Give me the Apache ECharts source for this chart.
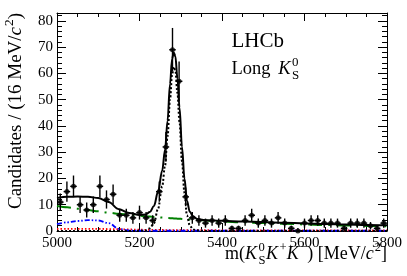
<!DOCTYPE html>
<html><head><meta charset="utf-8">
<script src="https://cdn.jsdelivr.net/npm/echarts@6/dist/echarts.min.js"></script>
<style>html,body{margin:0;padding:0;background:#fff}#c{width:407px;height:276px}</style>
</head><body><div id="c"></div>
<script>
// ---- data ----
const binWidth = 16;
const binCenters = [5008,5024,5040,5056,5072,5088,5104,5120,5136,5152,
  5168,5184,5200,5216,5232,5248,5264,5280,5296,5312,
  5328,5344,5360,5376,5392,5408,5424,5440,5456,5472,
  5488,5504,5520,5536,5552,5568,5584,5600,5616,5632,
  5648,5664,5680,5696,5712,5728,5744,5760,5776,5792];
const counts = [11,15,17,10,8,10,17,12,14,6,
  6,5,7,5,4,15,32,69,57,13,
  5,4,3,4,3,4,1,1,4,6,
  3,4,3,5,3,1,0,3,4,4,
  3,3,3,1,3,3,3,2,1,3];
const curveMass = [5000,5025,5050,5075,5100,5125,5150,5175,5200,5215,
  5225,5235,5245,5255,5262,5268,5274,5279,5283,5287,
  5292,5297,5303,5309,5315,5322,5330,5340,5355,5375,
  5400,5450,5500,5550,5600,5650,5700,5750,5800];
const totalFit = [12.6,13.0,13.1,13.0,12.6,11.0,8.3,6.9,6.1,6.3,
  7.2,9.5,15,23,31,42,56,65.5,68,66.5,
  58,47,32,20,11.5,7.3,5.6,4.6,4.2,4.0,
  3.9,3.6,3.4,3.1,2.9,2.7,2.5,2.3,2.2];
const signalFit = [0,0,0,0,0,0,0,0,0.05,0.2,
  1,3,8.5,17,25,36,50,59.5,62.5,61,
  52.5,41.5,26.5,14.5,6,2,0.6,0.2,0.05,0,
  0,0,0,0,0,0,0,0,0];
const combFit = [9.5,9.0,8.5,8.0,7.5,7.0,6.6,6.2,5.8,5.6,
  5.5,5.35,5.2,5.1,5.0,4.95,4.9,4.85,4.8,4.75,
  4.7,4.65,4.6,4.5,4.45,4.4,4.3,4.2,4.05,3.85,
  3.6,3.3,3.0,2.75,2.5,2.3,2.1,1.95,1.8];
const blueFit = [2.6,3.3,3.8,4.15,4.0,3.0,0.8,0.2,0.1,0.1,
  0.1,0.1,0.1,0.1,0.1,0.1,0.1,0.1,0.1,0.1,
  0.1,0.1,0.1,0.1,0.1,0.1,0.1,0.1,0.1,0.1,
  0.1,0.1,0.1,0.1,0.1,0.1,0.1,0.1,0.1];
const redFit = [0.8,0.8,0.8,0.8,0.8,0.75,0.7,0.6,0.5,0.45,
  0.45,0.4,0.4,0.4,0.35,0.35,0.35,0.35,0.35,0.35,
  0.35,0.3,0.3,0.3,0.3,0.3,0.3,0.3,0.3,0.3,
  0.25,0.25,0.25,0.25,0.2,0.2,0.2,0.2,0.2];
const xTickLabels = [5000,5200,5400,5600,5800];
const yTickLabels = [0,10,20,30,40,50,60,70,80];

// ---- text layout helpers ----
const FONT = '"Liberation Serif", "Times New Roman", serif';
const mctx = document.createElement('canvas').getContext('2d');
function fontStr(size, it){ return (it ? 'italic ' : '') + size + 'px ' + FONT; }
function textW(t, size, it){ mctx.font = fontStr(size, it); return mctx.measureText(t).width; }
function baseOff(size){
  mctx.font = fontStr(size, false);
  mctx.textBaseline = 'alphabetic';
  const a = mctx.measureText('H').actualBoundingBoxAscent;
  mctx.textBaseline = 'middle';
  const b = mctx.measureText('H').actualBoundingBoxAscent;
  mctx.textBaseline = 'alphabetic';
  return a - b;
}
function layoutText(pieces, base){
  let x = 0, pend = 0; const kids = [];
  for (const p of pieces){
    const s = base * (p.s || 1); const w = textW(p.t, s, p.it);
    x += (p.gap || 0);
    kids.push({type:'text', x:x, y:(p.dy || 0) * base - baseOff(s),
      style:{text:p.t, font:fontStr(s, p.it), fill:'#000', align:'left', verticalAlign:'middle'}});
    if (p.stack){ pend = w; } else { x += Math.max(w, pend); pend = 0; }
  }
  return {kids, width:x};
}
const SUP = -0.42, SUB = 0.28, SM = 0.7;
const xT = layoutText([{t:'m('},{t:'K',it:1},{t:'0',s:SM,dy:SUP,stack:1,gap:1.5},{t:'S',s:SM,dy:SUB},
  {t:'K',it:1,gap:0.5},{t:'+',s:SM,dy:SUP,gap:1.5},{t:'K',it:1},{t:'\u2212',s:SM,dy:SUP,gap:1.5},
  {t:') [MeV/'},{t:'c',it:1},{t:'2',s:SM,dy:SUP,gap:1},{t:']'}], 18);
const yT = layoutText([{t:'Candidates / (16 MeV/'},{t:'c',it:1},{t:'2',s:SM,dy:SUP,gap:1},{t:')'}], 19);
const lhcbT = layoutText([{t:'LHCb'}], 21);
const longT = layoutText([{t:'Long '},{t:'K',it:1,gap:3},{t:'0',s:SM,dy:SUP,stack:1,gap:1.5},{t:'S',s:SM,dy:SUB}], 18.5);

// ---- chart ----
const G = {left:57, right:20, top:13, bottom:45};
const errs = counts.map(n => n > 0 ? Math.sqrt(n) : 1.15);
const pts = binCenters.map((x,i) => [x, counts[i], errs[i]]);
const curve = arr => curveMass.map((m,i) => [m, arr[i]]);
const axisCommon = {
  axisLine:{show:true, onZero:false, lineStyle:{color:'#000', width:1}},
  axisTick:{show:true, inside:true, length:8, lineStyle:{color:'#000', width:1}},
  splitLine:{show:false}
};
const xAx = (pos, lab) => Object.assign({}, axisCommon, {
  type:'value', min:5000, max:5800, interval:200, position:pos,
  minorTick:{show:true, splitNumber:4, length:4, lineStyle:{color:'#000'}},
  axisLabel:{show:lab, color:'#000', fontFamily:FONT, fontSize:15, margin:5,
    formatter: v => xTickLabels.includes(v) ? String(v) : ''}
});
const yAx = (pos, lab) => Object.assign({}, axisCommon, {
  type:'value', min:0, max:83, interval:10, position:pos,
  axisTick:{show:true, inside:true, length:9, lineStyle:{color:'#000', width:1}},
  minorTick:{show:true, splitNumber:5, length:5, lineStyle:{color:'#000'}},
  axisLabel:{show:lab, color:'#000', fontFamily:FONT, fontSize:15, margin:4,
    showMaxLabel:false,
    formatter: v => yTickLabels.includes(v) ? String(v) : ''}
});
const lineS = (data, color, type, width, z) => ({
  type:'line', data:curve(data), showSymbol:false, smooth:0.35, smoothMonotone:'x',
  lineStyle:{color, type, width}, xAxisIndex:0, yAxisIndex:0, z:z||2, silent:true
});

const chart = echarts.init(document.getElementById('c'), null, {renderer:'canvas'});
chart.setOption({
  animation:false,
  backgroundColor:'#fff',
  grid:Object.assign({containLabel:false}, G),
  xAxis:[xAx('bottom', true), xAx('top', false)],
  yAxis:[yAx('left', true), yAx('right', false)],
  series:[
    lineS(redFit, '#ff0000', [1.5,2], 1.8, 2),
    lineS(blueFit, '#0000ff', [5,2,1.5,2,1.5,2], 1.8, 2),
    lineS(combFit, '#008000', [14,6,2,6], 2, 2),
    lineS(signalFit, '#000', [2,2], 2, 3),
    lineS(totalFit, '#000', 'solid', 2, 4),
    {type:'custom', data:pts, xAxisIndex:0, yAxisIndex:0, z:5, silent:true,
      encode:{x:0, y:1},
      renderItem:(params, api) => {
        const x = api.value(0), y = api.value(1), e = api.value(2);
        const lo = Math.max(0, y - e), hi = y + e;
        const pL = api.coord([x - binWidth/2, y]), pR = api.coord([x + binWidth/2, y]);
        const pB = api.coord([x, lo]), pT = api.coord([x, hi]);
        const st = {stroke:'#000', lineWidth:1.4};
        return {type:'group', children:[
          {type:'line', shape:{x1:pL[0], y1:pL[1], x2:pR[0], y2:pR[1]}, style:st},
          {type:'line', shape:{x1:pB[0], y1:pB[1], x2:pT[0], y2:pT[1]}, style:st}
        ]};
      }},
    {type:'scatter', data:pts.map(p => [p[0], p[1]]), symbol:'circle', symbolSize:5,
      itemStyle:{color:'#000'}, z:6, silent:true}
  ],
  graphic:{elements:[
    {type:'group', x:387 - xT.width, y:258.5, children:xT.kids},
    {type:'group', x:20.5, y:13 + yT.width, rotation:Math.PI/2, children:yT.kids},
    {type:'group', x:231.5, y:47, children:lhcbT.kids},
    {type:'group', x:231.5, y:74, children:longT.kids}
  ]}
});
</script></body></html>
